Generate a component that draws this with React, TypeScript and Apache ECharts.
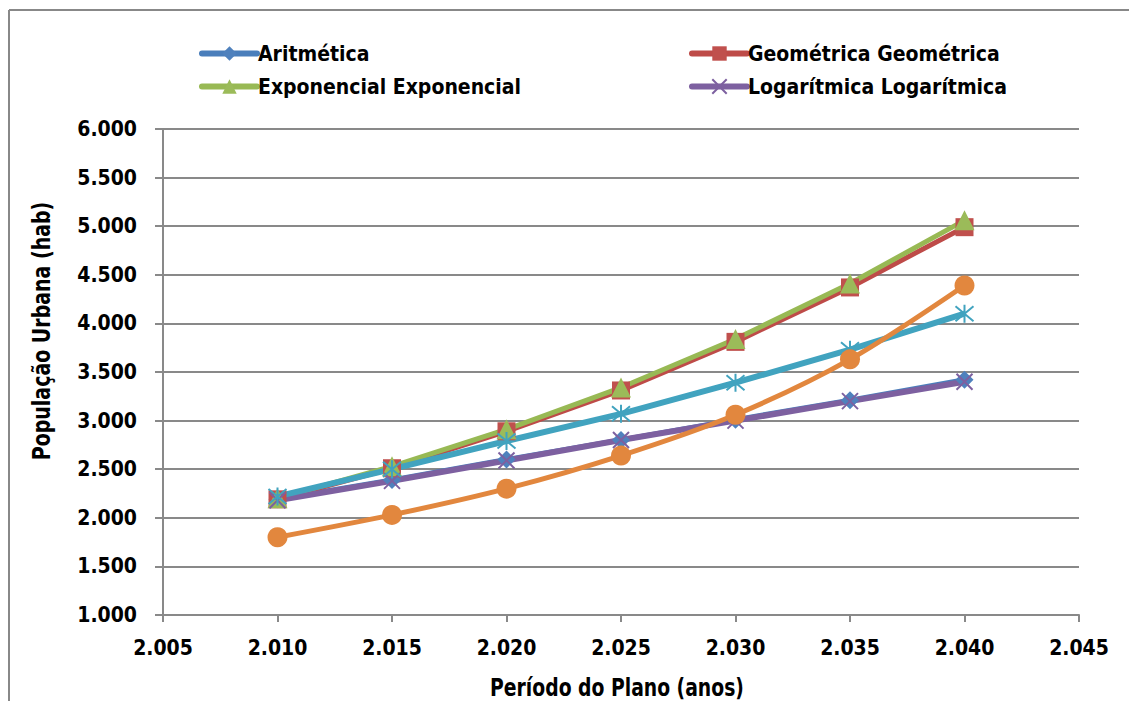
import React, { useEffect, useRef } from "react";
import * as echarts from "echarts";

const years = [2010, 2015, 2020, 2025, 2030, 2035, 2040];
const aritmetica = [2190, 2390, 2600, 2800, 3010, 3210, 3420];
const geometrica = [2190, 2510, 2890, 3310, 3810, 4370, 4990];
const exponencial = [2200, 2530, 2910, 3340, 3840, 4410, 5060];
const logaritmica = [2180, 2380, 2590, 2800, 3000, 3200, 3400];
const serie5 = [2220, 2500, 2790, 3070, 3390, 3730, 4100];
const serie6 = [1800, 2030, 2300, 2640, 3060, 3630, 4390];

const legendLeft = ["Aritmética", "Exponencial Exponencial"];
const legendRight = ["Geométrica Geométrica", "Logarítmica Logarítmica"];

const FONT = "'Liberation Sans Narrow', 'Arial Narrow', 'DejaVu Sans Condensed', sans-serif";
const GRID = "#898989";

const fmt = (v: number) => {
  const t = Math.floor(v / 1000);
  const r = String(Math.round(v % 1000)).padStart(3, "0");
  return `${t}.${r}`;
};

const pts = (ys: number[]) => years.map((x, i) => [x, ys[i]]);

const X_PATH = "path://M0 0 L20 20 M20 0 L0 20";
const STAR_PATH = "path://M0 0 L20 20 M20 0 L0 20 M10 -2 L10 22";

export default function App() {
  const ref = useRef<HTMLDivElement>(null);
  useEffect(() => {
    if (!ref.current) return;
    const chart = echarts.init(ref.current, undefined, { renderer: "svg" });
    const textStyle = { fontFamily: FONT, fontWeight: "bold" as const, fontSize: 21, color: "#000" };
    const legendCommon = {
      orient: "vertical",
      top: 38,
      itemWidth: 55,
      itemHeight: 18,
      itemGap: 12,
      lineStyle: { width: 6, cap: "round" },
      textStyle: { ...textStyle, padding: [0, 0, 0, -4] },
    };
    chart.setOption({
      animation: false,
      backgroundColor: "#fff",
      textStyle: { fontFamily: FONT },
      grid: { left: 163, right: 50, top: 129, bottom: 86, containLabel: false },
      legend: [
        { ...legendCommon, data: legendLeft, left: 194 },
        { ...legendCommon, data: legendRight, left: 684 },
      ],
      xAxis: {
        type: "value",
        min: 2005,
        max: 2045,
        interval: 5,
        axisLine: { show: true, lineStyle: { color: GRID, width: 2 } },
        axisTick: { show: true, length: 7, lineStyle: { color: GRID, width: 2 } },
        axisLabel: { ...textStyle, margin: 22, formatter: (v: number) => fmt(v) },
        splitLine: { show: false },
      },
      yAxis: {
        type: "value",
        min: 1000,
        max: 6000,
        interval: 500,
        axisLine: { show: true, lineStyle: { color: GRID, width: 2 } },
        axisTick: { show: true, length: 8, lineStyle: { color: GRID, width: 2 } },
        axisLabel: { ...textStyle, margin: 26, formatter: (v: number) => fmt(v) },
        splitLine: { show: true, lineStyle: { color: GRID, width: 2 } },
      },
      graphic: [
        { type: "line", shape: { x1: 9, y1: 10, x2: 1129, y2: 10 }, style: { stroke: "#888", lineWidth: 2 } },
        { type: "line", shape: { x1: 9, y1: 10, x2: 9, y2: 701 }, style: { stroke: "#888", lineWidth: 2 } },
        {
          type: "text",
          x: 42,
          y: 331,
          rotation: Math.PI / 2,
          scaleX: 0.88,
          style: {
            text: "População Urbana (hab)",
            fontFamily: FONT,
            fontWeight: "bold",
            fontSize: 24,
            fill: "#000",
            align: "center",
            verticalAlign: "middle",
          },
        },
        {
          type: "text",
          x: 617,
          y: 687,
          scaleX: 0.87,
          style: {
            text: "Período do Plano (anos)",
            fontFamily: FONT,
            fontWeight: "bold",
            fontSize: 24,
            fill: "#000",
            align: "center",
            verticalAlign: "middle",
          },
        },
      ],
      series: [
        {
          name: "Aritmética",
          type: "line",
          data: pts(aritmetica),
          symbol: "diamond",
          symbolSize: 18,
          lineStyle: { color: "#4A7EBB", width: 5 },
          itemStyle: { color: "#4F81BD" },
        },
        {
          name: "Geométrica Geométrica",
          type: "line",
          data: pts(geometrica),
          symbol: "rect",
          symbolSize: 18,
          lineStyle: { color: "#BE4B48", width: 5 },
          itemStyle: { color: "#C0504D" },
        },
        {
          name: "Exponencial Exponencial",
          type: "line",
          data: pts(exponencial),
          symbol: "triangle",
          symbolSize: 20,
          lineStyle: { color: "#98B954", width: 5 },
          itemStyle: { color: "#9BBB59" },
        },
        {
          name: "Logarítmica Logarítmica",
          type: "line",
          data: pts(logaritmica),
          symbol: X_PATH,
          symbolSize: 16,
          lineStyle: { color: "#7D60A0", width: 6 },
          itemStyle: { color: "#7D60A0", borderColor: "#7D60A0", borderWidth: 2 },
        },
        {
          name: "Série 5",
          type: "line",
          data: pts(serie5),
          symbol: STAR_PATH,
          symbolSize: 18,
          lineStyle: { color: "#41A3BF", width: 6 },
          itemStyle: { color: "#41A3BF", borderColor: "#41A3BF", borderWidth: 2 },
        },
        {
          name: "Série 6",
          type: "line",
          data: pts(serie6),
          smooth: 0.3,
          symbol: "circle",
          symbolSize: 20,
          lineStyle: { color: "#E2873E", width: 5 },
          itemStyle: { color: "#E2873E" },
        },
      ],
    });
    return () => chart.dispose();
  }, []);
  return (
    <div
      ref={ref}
      style={{ position: "absolute", left: 0, top: 0, width: 1129, height: 701 }}
    />
  );
}
